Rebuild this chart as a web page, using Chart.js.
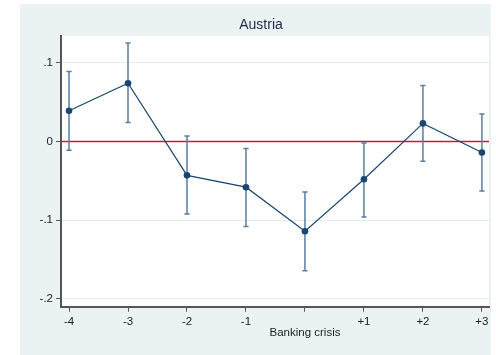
<!DOCTYPE html>
<html>
<head>
<meta charset="utf-8">
<script src="https://cdn.jsdelivr.net/npm/chart.js@4/dist/chart.umd.min.js"></script>
<style>
  html, body { margin: 0; padding: 0; background: #ffffff; }
  #wrap { width: 496px; height: 355px; }
</style>
</head>
<body>
<div id="wrap"><canvas id="c" width="496" height="355"></canvas></div>
<script>
// Event-time estimates around a banking crisis, with confidence bands
const periods   = [-4, -3, -2, -1, 0, 1, 2, 3];
const estimate  = [0.039, 0.074, -0.043, -0.058, -0.114, -0.048, 0.023, -0.014];
const ciLower   = [-0.011, 0.024, -0.092, -0.108, -0.164, -0.096, -0.025, -0.063];
const ciUpper   = [0.089, 0.125, 0.007, -0.009, -0.064, -0.002, 0.071, 0.035];

const xTickValues = [-4, -3, -2, -1, 0, 1, 2, 3];
const xTickLabels = ['-4', '-3', '-2', '-1', ['', 'Banking crisis'], '+1', '+2', '+3'];
const yTickValues = [-0.2, -0.1, 0, 0.1];
const yTickLabels = ['-.2', '-.1', '0', '.1'];

const referenceLevel = 0;

function labelFor(values, labels, v) {
  const i = values.findIndex(t => Math.abs(t - v) < 1e-9);
  return i >= 0 ? labels[i] : '';
}

// Panel background, white plot region, reference line and whiskers
const panelPlugin = {
  id: 'panel',
  beforeDraw(chart) {
    const { ctx, chartArea } = chart;
    ctx.save();
    ctx.fillStyle = '#eaf2f3';
    ctx.fillRect(20, 4, 471, 351);
    ctx.fillStyle = '#ffffff';
    ctx.fillRect(chartArea.left, chartArea.top, chartArea.right - chartArea.left, chartArea.bottom - chartArea.top);
    ctx.restore();
  },
  beforeDatasetsDraw(chart) {
    const { ctx, chartArea, scales } = chart;
    const xs = scales.x, ys = scales.y;
    ctx.save();
    // zero reference line
    const y0 = ys.getPixelForValue(referenceLevel);
    ctx.strokeStyle = '#c41e3a';
    ctx.lineWidth = 1.4;
    ctx.beginPath();
    ctx.moveTo(chartArea.left, y0);
    ctx.lineTo(chartArea.right, y0);
    ctx.stroke();
    // confidence whiskers
    ctx.strokeStyle = '#5b7ea3';
    ctx.lineWidth = 1.5;
    const cap = 2.6;
    periods.forEach((p, i) => {
      const x = xs.getPixelForValue(p);
      const yl = ys.getPixelForValue(ciLower[i]);
      const yu = ys.getPixelForValue(ciUpper[i]);
      ctx.beginPath();
      ctx.moveTo(x, yl); ctx.lineTo(x, yu);
      ctx.moveTo(x - cap, yl); ctx.lineTo(x + cap, yl);
      ctx.moveTo(x - cap, yu); ctx.lineTo(x + cap, yu);
      ctx.stroke();
    });
    ctx.restore();
  }
};

const tickFont = { family: '"Liberation Sans", Arial, sans-serif', size: 11.5, lineHeight: 1.0 };

new Chart(document.getElementById('c'), {
  type: 'line',
  data: {
    datasets: [{
      data: periods.map((p, i) => ({ x: p, y: estimate[i] })),
      borderColor: '#1a476f',
      backgroundColor: '#1a476f',
      borderWidth: 1.2,
      pointRadius: 3.3,
      pointBorderWidth: 0,
      pointBackgroundColor: '#1a476f',
      tension: 0,
      fill: false
    }]
  },
  options: {
    responsive: false,
    animation: false,
    devicePixelRatio: 1,
    layout: { padding: { left: 33, right: 7, top: 0, bottom: 0 } },
    plugins: {
      legend: { display: false },
      tooltip: { enabled: false },
      title: {
        display: true,
        text: 'Austria',
        color: '#1e2b47',
        font: { family: '"Liberation Sans", Arial, sans-serif', size: 14, weight: 'normal', lineHeight: 1.2 },
        padding: { top: 16.5, bottom: 2.7 }
      }
    },
    scales: {
      x: {
        type: 'linear',
        min: -4.136,
        max: 3.12,
        afterBuildTicks(scale) { scale.ticks = xTickValues.map(v => ({ value: v })); },
        afterFit(scale) { scale.height = 48.3; },
        ticks: {
          color: '#222222',
          font: tickFont,
          padding: 4,
          maxRotation: 0,
          autoSkip: false,
          callback: (v) => labelFor(xTickValues, xTickLabels, v)
        },
        grid: { drawOnChartArea: false, tickLength: 5, tickColor: '#555555', tickWidth: 1 },
        border: { display: true, color: '#555555', width: 2 }
      },
      y: {
        type: 'linear',
        min: -0.2098,
        max: 0.134,
        afterBuildTicks(scale) { scale.ticks = yTickValues.map(v => ({ value: v })); },
        afterFit(scale) { scale.width = 28; },
        ticks: {
          color: '#222222',
          font: tickFont,
          padding: 3,
          autoSkip: false,
          callback: (v) => labelFor(yTickValues, yTickLabels, v)
        },
        grid: { color: '#e3ecee', lineWidth: 1, tickLength: 5, tickColor: '#555555', tickWidth: 1 },
        border: { display: true, color: '#555555', width: 2 }
      }
    }
  },
  plugins: [panelPlugin]
});
</script>
</body>
</html>
